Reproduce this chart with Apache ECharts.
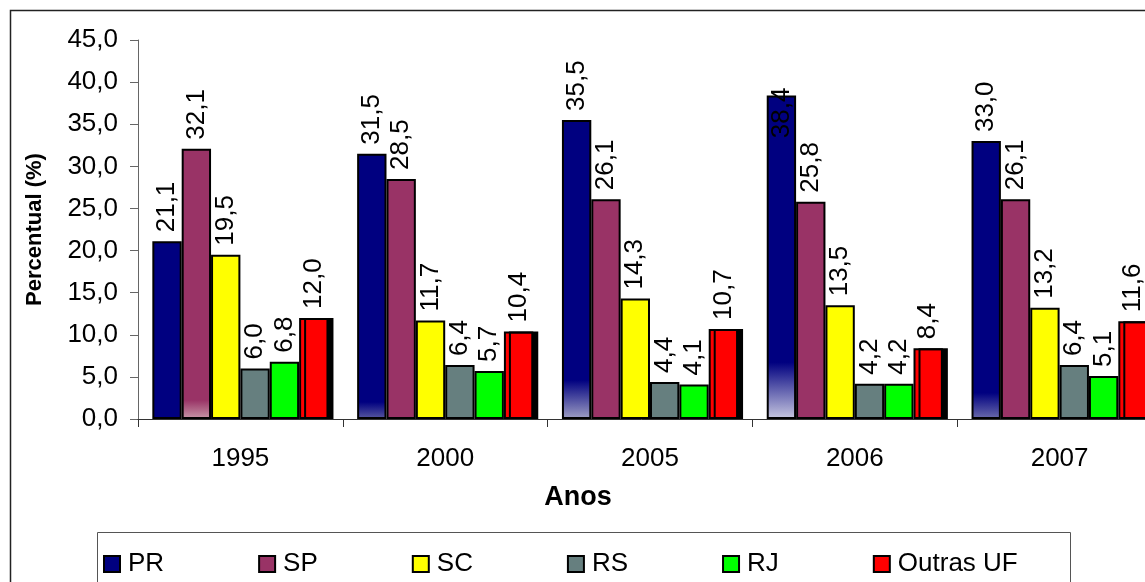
<!DOCTYPE html>
<html>
<head>
<meta charset="utf-8">
<script src="https://cdn.jsdelivr.net/npm/echarts@6/dist/echarts.min.js"></script>
<style>
html,body{margin:0;padding:0;background:#fff;}
#c{width:1145px;height:582px;}
</style>
</head>
<body>
<div id="c"></div>
<script>
const categories = ['1995', '2000', '2005', '2006', '2007'];
const seriesNames = ['PR', 'SP', 'SC', 'RS', 'RJ', 'Outras UF'];
const PR = [21.1, 31.5, 35.5, 38.4, 33.0];
const SP = [32.1, 28.5, 26.1, 25.8, 26.1];
const SC = [19.5, 11.7, 14.3, 13.5, 13.2];
const RS = [6.0, 6.4, 4.4, 4.2, 6.4];
const RJ = [6.8, 5.7, 4.1, 4.2, 5.1];
const OUTRAS = [12.0, 10.4, 10.7, 8.4, 11.6];
const yTicks = [0, 5, 10, 15, 20, 25, 30, 35, 40, 45];

const seriesValues = [PR, SP, SC, RS, RJ, OUTRAS];
const colors = ['#000080', '#993366', '#FFFF00', '#667F7F', '#00FF00', '#FF0000'];

// faded-bottom artefacts seen in the picture: [seriesIndex, dataIndex, fadeStart, bottomColor]
const fades = [
  [0, 1, 0.936, '#5a5aa0'],
  [0, 2, 0.87, '#a0a0c4'],
  [0, 3, 0.825, '#c8c8e0'],
  [0, 4, 0.906, '#6c6cac'],
  [1, 0, 0.93, '#c898a8']
];
// labels placed differently in the picture
const labelOverrides = { '0-3': { position: 'insideTop', align: 'right', distance: -8 } };

const FONT = "'Liberation Sans', Arial, sans-serif";
const fmt = v => Number(v).toFixed(1).replace('.', ',');

const series = seriesValues.map((vals, si) => ({
  name: seriesNames[si],
  type: 'bar',
  barGap: '0%',
  barCategoryGap: '14%',
  data: vals.map((v, di) => {
    const item = { value: v };
    const f = fades.find(x => x[0] === si && x[1] === di);
    if (f) {
      item.itemStyle = {
        color: new echarts.graphic.LinearGradient(0, 0, 0, 1, [
          { offset: 0, color: colors[si] },
          { offset: f[2], color: colors[si] },
          { offset: 1, color: f[3] }
        ])
      };
    }
    const lo = labelOverrides[si + '-' + di];
    if (lo) item.label = lo;
    return item;
  }),
  itemStyle: Object.assign({
    color: colors[si],
    borderColor: '#000',
    borderWidth: 2
  }, si === 5 ? { shadowColor: '#000', shadowBlur: 0, shadowOffsetX: 5, shadowOffsetY: 0 } : {}),
  label: {
    show: true,
    position: 'top',
    rotate: 90,
    align: 'left',
    verticalAlign: 'middle',
    distance: 9,
    color: '#000',
    fontFamily: FONT,
    fontSize: 26,
    formatter: p => fmt(p.value)
  },
  emphasis: { disabled: true }
}));

const chart = echarts.init(document.getElementById('c'), null, { renderer: 'canvas' });
chart.setOption({
  animation: false,
  backgroundColor: '#fff',
  textStyle: { fontFamily: FONT },
  grid: { left: 138, top: 40, right: -17, height: 379, containLabel: false, outerBoundsMode: 'none' },
  xAxis: {
    type: 'category',
    data: categories,
    z: 5,
    axisLine: { lineStyle: { color: '#333', width: 1 } },
    axisTick: { show: true, length: 8, lineStyle: { color: '#333' } },
    axisLabel: { color: '#000', fontSize: 26, fontFamily: FONT, margin: 27 },
    splitLine: { show: false }
  },
  yAxis: {
    type: 'value',
    min: yTicks[0],
    max: yTicks[yTicks.length - 1],
    interval: yTicks[1] - yTicks[0],
    name: 'Percentual (%)',
    nameLocation: 'middle',
    nameGap: 92,
    nameRotate: 90,
    nameTextStyle: { color: '#000', fontSize: 22, fontWeight: 'bold', fontFamily: FONT },
    axisLine: { show: true, lineStyle: { color: '#666', width: 1 } },
    axisTick: { show: true, length: 8, lineStyle: { color: '#666' } },
    axisLabel: { color: '#000', fontSize: 26, fontFamily: FONT, margin: 20, formatter: v => fmt(v) },
    splitLine: { show: false }
  },
  legend: {
    data: seriesNames,
    left: 98,
    top: 546,
    itemWidth: 16,
    itemHeight: 16,
    itemGap: 94,
    icon: 'rect',
    itemStyle: { borderColor: '#000', borderWidth: 2, shadowBlur: 0, shadowOffsetX: 0, shadowOffsetY: 0, shadowColor: 'rgba(0,0,0,0)' },
    textStyle: { color: '#000', fontSize: 26, fontFamily: FONT, padding: [0, 0, 0, 3] },
    selectedMode: false
  },
  graphic: [
    { type: 'rect', silent: true, z: -1, shape: { x: 10.5, y: 10.5, width: 1300, height: 700 },
      style: { fill: 'none', stroke: '#222', lineWidth: 1.5 } },
    { type: 'rect', silent: true, z: -1, shape: { x: 97.5, y: 532.5, width: 973, height: 100 },
      style: { fill: 'none', stroke: '#555', lineWidth: 1 } },
    { type: 'text', silent: true, x: 578, y: 498,
      style: { text: 'Anos', fill: '#000', font: "bold 27px 'Liberation Sans', Arial, sans-serif", align: 'center', verticalAlign: 'middle' } }
  ],
  series: series
});
</script>
</body>
</html>
